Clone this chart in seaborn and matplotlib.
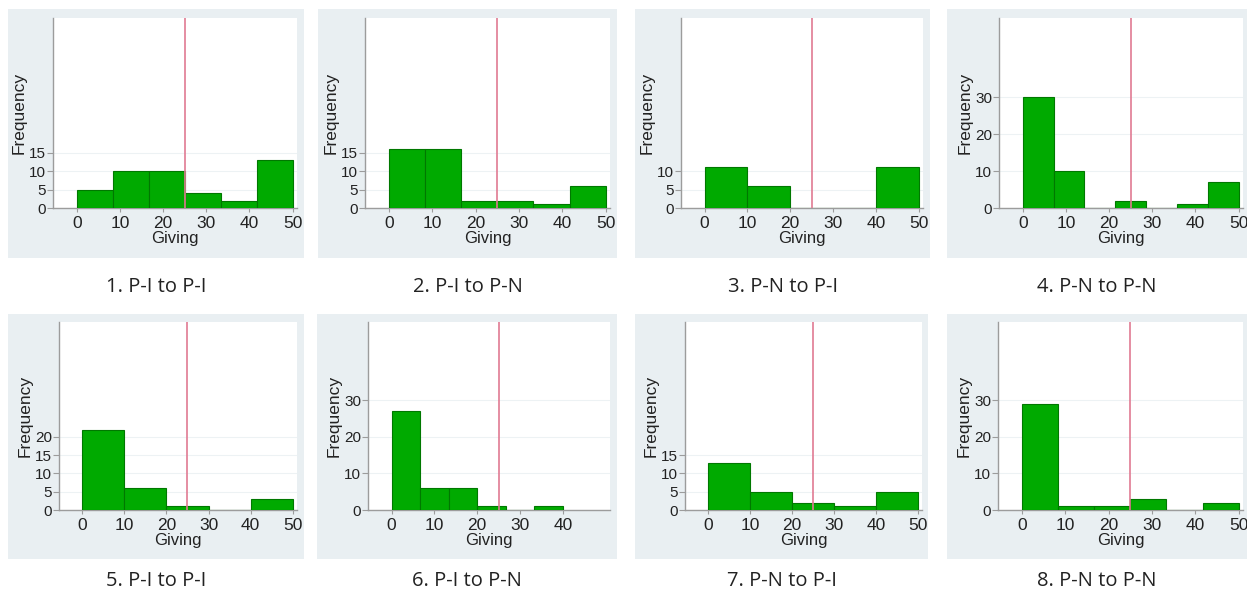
import numpy as np
import pandas as pd
import matplotlib
matplotlib.use("Agg")
import matplotlib.pyplot as plt
from matplotlib.patches import Rectangle
import seaborn as sns

# Giving histograms, counts per bin
titles = ["1. P-I to P-I", "2. P-I to P-N", "3. P-N to P-I", "4. P-N to P-N",
          "5. P-I to P-I", "6. P-I to P-N", "7. P-N to P-I", "8. P-N to P-N"]
counts_1 = [5, 10, 10, 4, 2, 13]
counts_2 = [16, 16, 2, 2, 1, 6]
counts_3 = [11, 6, 0, 0, 11]
counts_4 = [30, 10, 0, 2, 0, 1, 7]
counts_5 = [22, 6, 1, 0, 3]
counts_6 = [27, 6, 6, 1, 0, 1]
counts_7 = [13, 5, 2, 1, 5]
counts_8 = [29, 1, 1, 3, 0, 2]
bin_top = [50, 50, 50, 50, 50, 40, 50, 50]
yticks_all = [[0, 5, 10, 15], [0, 5, 10, 15], [0, 5, 10], [0, 10, 20, 30],
              [0, 5, 10, 15, 20], [0, 10, 20, 30], [0, 5, 10, 15], [0, 10, 20, 30]]
xticks_all = [[0, 10, 20, 30, 40, 50]] * 5 + [[0, 10, 20, 30, 40]] + [[0, 10, 20, 30, 40, 50]] * 2
cutoff = 25
all_counts = [counts_1, counts_2, counts_3, counts_4, counts_5, counts_6, counts_7, counts_8]

W, H = 1247, 592
sns.set_style("white")
plt.rcParams['font.family'] = ['Liberation Sans', 'DejaVu Sans']

fig = plt.figure(figsize=(W / 100, H / 100), dpi=100)

# pixel boxes (x0, y0, x1, y1), top-left origin
boxes = [(8, 9, 304, 258), (318, 9, 617, 258), (635, 9, 930, 258), (947, 9, 1247, 258),
         (8, 314, 304, 559), (317, 314, 617, 559), (635, 314, 928, 559), (947, 314, 1247, 559)]
plots = [(53, 18, 297, 208), (365, 18, 610, 208), (681, 18, 923, 208), (999, 18, 1243, 208),
         (59, 322, 297, 510), (368, 322, 610, 510), (685, 322, 922, 510), (998, 322, 1243, 510)]
caption_y = [287, 287, 287, 287, 581, 581, 581, 581]

bg = "#e9eff2"
bar_col = "#00aa00"
edge_col = "#007800"
txt = "#222222"


def fig_rect(b):
    x0, y0, x1, y1 = b
    return [x0 / W, 1 - y1 / H, (x1 - x0) / W, (y1 - y0) / H]


for i in range(8):
    r = fig_rect(boxes[i])
    fig.add_artist(Rectangle((r[0], r[1]), r[2], r[3], transform=fig.transFigure,
                             facecolor=bg, edgecolor="none", zorder=0))

    ax = fig.add_axes(fig_rect(plots[i]))
    ax.set_facecolor("white")
    cnt = np.array(all_counts[i], dtype=float)
    edges = np.linspace(0, bin_top[i], len(cnt) + 1)
    df = pd.DataFrame({"giving": (edges[:-1] + edges[1:]) / 2, "n": cnt})
    sns.histplot(data=df, x="giving", weights="n", bins=edges.tolist(), ax=ax,
                 color=bar_col, edgecolor=edge_col, linewidth=0.8, alpha=1, zorder=3)
    ax.axvline(cutoff, color="#e07a92", lw=1.2, zorder=4)

    ax.set_xlim(-5.5, 51)
    ax.set_ylim(0, 51.5)
    ax.set_yticks(yticks_all[i])
    ax.set_xticks(xticks_all[i])
    ax.grid(axis="y", color="#edf2f4", lw=0.8, zorder=0)
    ax.set_axisbelow(True)
    for s in ["top", "right"]:
        ax.spines[s].set_visible(False)
    for s in ["left", "bottom"]:
        ax.spines[s].set_color("#9c9c9c")
        ax.spines[s].set_linewidth(1.0)
    ax.tick_params(axis="y", length=4, width=0.8, color="#9c9c9c", pad=1,
                   labelsize=11, labelcolor=txt, left=True)
    ax.tick_params(axis="x", length=3, width=0.8, color="#9c9c9c", pad=3,
                   labelsize=12.5, labelcolor=txt, bottom=True)
    ax.set_ylabel("Frequency", fontsize=12.5, color=txt, labelpad=2)
    ax.set_xlabel("Giving", fontsize=12, color=txt, labelpad=0)

    cx = (boxes[i][0] + boxes[i][2]) / 2
    fig.text(cx / W, 1 - caption_y[i] / H, titles[i], ha="center", va="center",
             fontsize=14.5, family=["Open Sans", "DejaVu Sans"], color=txt)

fig.savefig("out.png", dpi=100, facecolor="white")
